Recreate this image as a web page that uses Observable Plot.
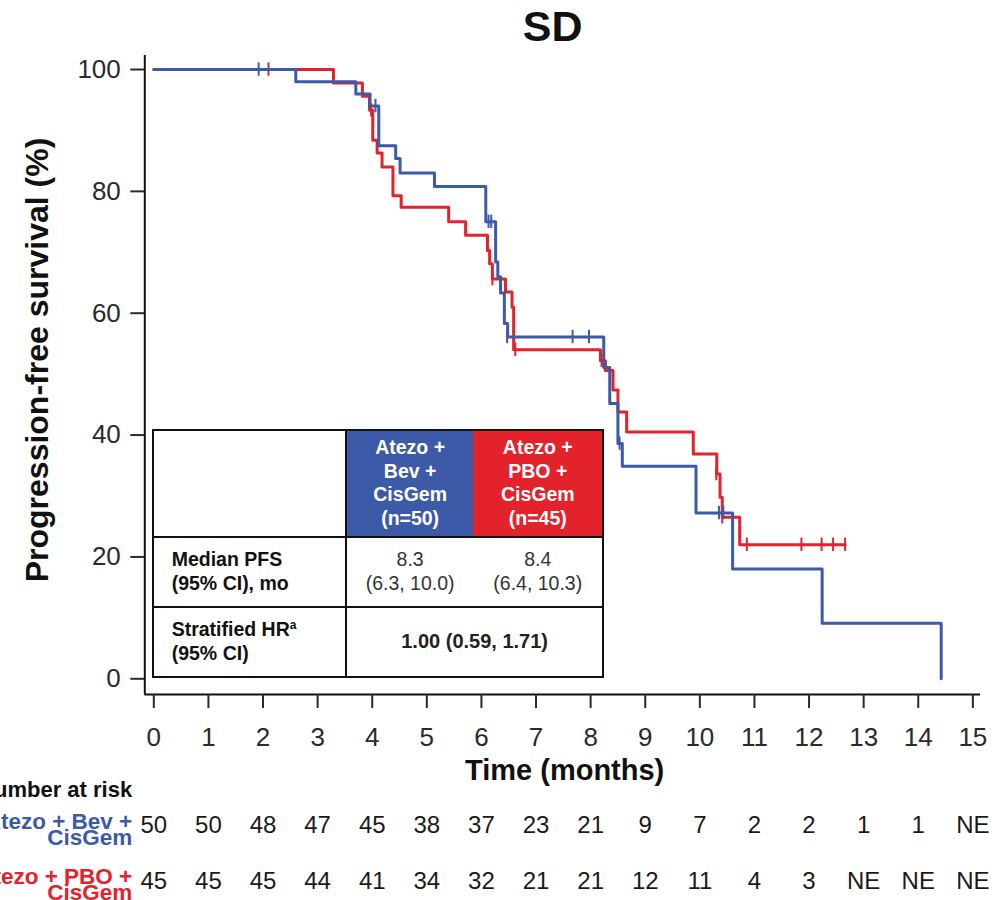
<!DOCTYPE html>
<html>
<head>
<meta charset="utf-8">
<script src="https://cdn.jsdelivr.net/npm/d3@7"></script>
<script src="https://cdn.jsdelivr.net/npm/@observablehq/plot@0.6"></script>
<style>
html, body { margin: 0; padding: 0; background: #fff; }
#wrap { position: relative; width: 1004px; height: 900px; overflow: hidden; font-family: "Liberation Sans", Arial, sans-serif; }
#chart svg { display: block; }
#tbl { position: absolute; left: 152.3px; top: 429px; display: grid; grid-template-columns: 190.7px 255.3px; grid-template-rows: 104.7px 68px 68px; gap: 2px; padding: 2px; background: #111; }
#tbl .c { background: #fff; display: flex; align-items: center; }
#tbl .lab { font-weight: bold; font-size: 19.5px; line-height: 23.5px; color: #111; padding-left: 17.4px; }
#tbl .half { display: flex; align-items: center; justify-content: center; text-align: center; height: 100%; }
#tbl .half.a { width: 126.3px; }
#tbl .half.b { flex: 1; }
#tbl .hdr { color: #fff; font-weight: bold; font-size: 19.5px; line-height: 23.6px; }
#tbl .val { color: #333; font-size: 19.5px; line-height: 23.5px; }
#tbl .hr { justify-content: center; font-weight: bold; font-size: 20px; color: #222; }
#tbl sup { font-size: 12px; vertical-align: 7px; line-height: 0; }
</style>
</head>
<body>
<div id="wrap">
  <div id="chart"></div>
  <div id="tbl"></div>
</div>
<script>
// ---------- data ----------
const titleText = "SD";
const xLabel = "Time (months)";
const yLabel = "Progression-free survival (%)";
const riskTitle = "Number at risk";
const armLabels = ["Atezo + Bev +\nCisGem", "Atezo + PBO +\nCisGem"];
const armHeaders = [["Atezo +", "Bev +", "CisGem", "(n=50)"], ["Atezo +", "PBO +", "CisGem", "(n=45)"]];
const medianPFS = ["8.3", "8.4"];
const medianCI = ["(6.3, 10.0)", "(6.4, 10.3)"];
const rowLabels = [["Median PFS", "(95% CI), mo"], ["Stratified HR", "(95% CI)"]];
const hrText = "1.00 (0.59, 1.71)";

const xTicks = [0, 1, 2, 3, 4, 5, 6, 7, 8, 9, 10, 11, 12, 13, 14, 15];
const yTicks = [0, 20, 40, 60, 80, 100];

// Atezo + Bev + CisGem (blue) KM steps
const blueT = [0, 2.60, 3.70, 3.96, 4.12, 4.43, 4.51, 5.14, 6.08, 6.26, 6.30, 6.35, 6.42, 6.48, 8.24, 8.35, 8.50, 8.58, 9.93, 10.60, 12.24, 14.42];
const blueS = [100, 98, 96, 94, 87.5, 85.4, 83.0, 80.8, 75.0, 68.4, 66.0, 63.3, 58.3, 56.1, 51.1, 45.2, 38.6, 34.9, 27.2, 18.0, 9.1, 0];
const blueCensT = [1.92, 4.06, 6.13, 6.18, 6.47, 7.67, 7.97, 8.50, 8.53, 10.35, 10.43];
const blueCensS = [100, 94, 75, 75, 56.1, 56.1, 56.1, 42.1, 38.6, 27.2, 27.2];

// Atezo + PBO + CisGem (red) KM steps
const redT = [0, 3.29, 3.82, 3.95, 4.01, 4.09, 4.18, 4.38, 4.53, 5.40, 5.71, 6.11, 6.15, 6.20, 6.44, 6.56, 6.59, 8.18, 8.27, 8.41, 8.50, 8.66, 9.88, 10.31, 10.37, 10.41, 10.73, 12.66];
const redS = [100, 97.8, 95.6, 93.3, 88.4, 86.3, 84.0, 79.3, 77.4, 75.0, 72.8, 70.3, 68.1, 65.6, 63.5, 61.0, 54.0, 52.2, 50.6, 47.4, 43.8, 40.5, 36.9, 33.6, 29.8, 26.5, 22.0, 22.0];
const redCensT = [2.10, 3.98, 6.20, 6.62, 8.20, 10.30, 10.41, 10.86, 11.86, 12.23, 12.44, 12.66];
const redCensS = [100, 93.3, 65.6, 54.0, 52.2, 33.6, 26.5, 22.0, 22.0, 22.0, 22.0, 22.0];

const blueRisk = ["50", "50", "48", "47", "45", "38", "37", "23", "21", "9", "7", "2", "2", "1", "1", "NE"];
const redRisk = ["45", "45", "45", "44", "41", "34", "32", "21", "21", "12", "11", "4", "3", "NE", "NE", "NE"];

// ---------- styling ----------
const BLUE = "#3d5aa8";
const RED = "#e3222c";
const INK = "#1a1a1a";
const xDomain = [-0.165, 15.14];
const yDomain = [-2.58, 102.3];

const blueData = blueT.map((t, i) => ({t, s: blueS[i]}));
const redData = redT.map((t, i) => ({t, s: redS[i]}));
const blueCens = blueCensT.map((t, i) => ({t, s: blueCensS[i]}));
const redCens = redCensT.map((t, i) => ({t, s: redCensS[i]}));
const blueRiskData = xTicks.map((t, i) => ({t, n: blueRisk[i]}));
const redRiskData = xTicks.map((t, i) => ({t, n: redRisk[i]}));

const plot = Plot.plot({
  width: 1004,
  height: 900,
  marginLeft: 144.3,
  marginRight: 24,
  marginTop: 55,
  marginBottom: 206,
  x: {domain: xDomain},
  y: {domain: yDomain},
  style: {fontFamily: "'Liberation Sans', Arial, sans-serif", background: "white", color: INK},
  marks: [
    Plot.ruleX([xDomain[0]], {stroke: "#111", strokeWidth: 2}),
    Plot.ruleY([yDomain[0]], {stroke: "#111", strokeWidth: 2}),
    Plot.axisY({ticks: yTicks, tickSize: 14, tickPadding: 10, fontSize: 26, strokeWidth: 2, color: "#2a2a2a", label: null}),
    Plot.axisX({ticks: xTicks, tickSize: 14, tickPadding: 19, fontSize: 26, strokeWidth: 2, color: "#2a2a2a", label: null}),
    Plot.line(redData, {x: "t", y: "s", curve: "step-after", stroke: RED, strokeWidth: 3}),
    Plot.ruleX(redCens, {x: "t", y1: d => d.s - 1.1, y2: d => d.s + 1.1, stroke: RED, strokeWidth: 2}),
    Plot.line(blueData, {x: "t", y: "s", curve: "step-after", stroke: BLUE, strokeWidth: 3}),
    Plot.ruleX(blueCens, {x: "t", y1: d => d.s - 1.1, y2: d => d.s + 1.1, stroke: BLUE, strokeWidth: 2}),
    Plot.text([titleText], {text: d => d, frameAnchor: "top", dx: -10, dy: -45, lineAnchor: "top", fontSize: 43, fontWeight: "bold", fill: "#111"}),
    Plot.text([xLabel], {text: d => d, frameAnchor: "bottom", dx: 2, dy: 76, lineAnchor: "middle", fontSize: 29, fontWeight: "bold", fill: "#111"}),
    Plot.text([yLabel], {text: d => d, frameAnchor: "left", rotate: -90, dx: -107, dy: -15, textAnchor: "middle", lineAnchor: "middle", fontSize: 32, fontWeight: "bold", fill: "#111"}),
    Plot.text([riskTitle], {text: d => d, frameAnchor: "bottom-left", dx: -12.6, dy: 87.2, textAnchor: "end", lineAnchor: "top", fontSize: 22, fontWeight: "bold", fill: "#111"}),
    Plot.text([armLabels[0]], {text: d => d, frameAnchor: "bottom-left", dx: -12.6, dy: 122.2, textAnchor: "end", lineAnchor: "top", lineHeight: 0.74, fontSize: 22.5, fontWeight: "bold", fill: BLUE}),
    Plot.text([armLabels[1]], {text: d => d, frameAnchor: "bottom-left", dx: -12.6, dy: 177.2, textAnchor: "end", lineAnchor: "top", lineHeight: 0.74, fontSize: 22.5, fontWeight: "bold", fill: RED}),
    Plot.text(blueRiskData, {x: "t", text: "n", frameAnchor: "bottom", dy: 121, lineAnchor: "top", fontSize: 24, fill: INK}),
    Plot.text(redRiskData, {x: "t", text: "n", frameAnchor: "bottom", dy: 177.7, lineAnchor: "top", fontSize: 24, fill: INK})
  ]
});
document.getElementById("chart").appendChild(plot);

// ---------- summary table ----------
const tbl = d3.select("#tbl");
tbl.append("div").attr("class", "c");
const h = tbl.append("div").attr("class", "c");
h.append("div").attr("class", "half a hdr").style("background", BLUE).append("div").html(armHeaders[0].join("<br>"));
h.append("div").attr("class", "half b hdr").style("background", RED).append("div").html(armHeaders[1].join("<br>"));
tbl.append("div").attr("class", "c lab").append("div").html(rowLabels[0].join("<br>"));
const v = tbl.append("div").attr("class", "c");
v.append("div").attr("class", "half a val").append("div").html(medianPFS[0] + "<br>" + medianCI[0]);
v.append("div").attr("class", "half b val").append("div").html(medianPFS[1] + "<br>" + medianCI[1]);
tbl.append("div").attr("class", "c lab").append("div").html(rowLabels[1][0] + "<sup>a</sup><br>" + rowLabels[1][1]);
tbl.append("div").attr("class", "c hr").append("div").text(hrText);
</script>
</body>
</html>
